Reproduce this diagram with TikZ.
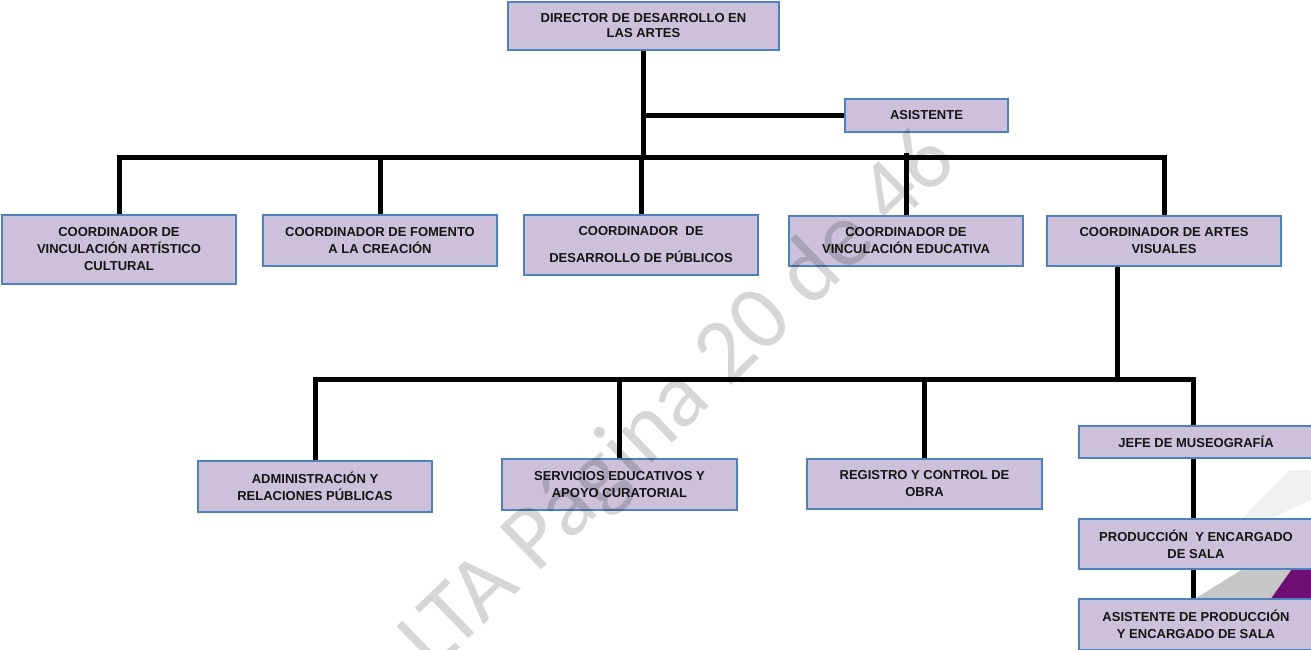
\documentclass[tikz,border=0pt]{standalone}
\usepackage{fontspec}
\setmainfont{Liberation Sans}
\newfontfamily\wmfont{Carlito}
\definecolor{boxfill}{HTML}{CCC0DA}
\definecolor{boxline}{HTML}{4F81BD}
\definecolor{logopurple}{HTML}{6E0E72}
\begin{document}
\begin{tikzpicture}[x=1pt,y=-1pt,
  orgbox/.style={draw=boxline,fill=boxfill,line width=1.4pt,inner sep=0pt,align=center,
    text=black!92,font=\bfseries\fontsize{13}{17}\selectfont},
  conn/.style={line width=5pt,draw=black}]
\useasboundingbox (0,0) rectangle (1311,649);
\fill[white] (0,0) rectangle (1311,649);
% partially hidden logo (bottom right)
\fill[gray!12] (1238,522) -- (1290,470) -- (1311,470) -- (1311,500) -- (1262,522) -- cycle;
\fill[gray!45] (1193,600) -- (1243,569) -- (1292,569) -- (1270,600) -- cycle;
\fill[logopurple] (1270,600) -- (1292,569) -- (1311,569) -- (1311,600) -- cycle;
% coordinates of the bars
\coordinate (b1) at (0,157);
\coordinate (b2) at (0,379);
% nodes
\node[orgbox,minimum width=271pt,minimum height=48pt,font=\bfseries\fontsize{13}{15}\selectfont] (dir) at (643.5,26) {DIRECTOR DE DESARROLLO EN\\LAS ARTES};
\node[orgbox,minimum width=163pt,minimum height=33pt] (asis) at (926.5,115.5) {ASISTENTE};
\node[orgbox,minimum width=234pt,minimum height=69pt] (c1) at (119,249.5) {COORDINADOR DE\\VINCULACIÓN ARTÍSTICO\\CULTURAL};
\node[orgbox,minimum width=234pt,minimum height=51pt] (c2) at (380,240.5) {COORDINADOR DE FOMENTO\\A LA CREACIÓN};
\node[orgbox,minimum width=234pt,minimum height=60pt,font=\bfseries\fontsize{13}{27}\selectfont] (c3) at (641,245) {COORDINADOR\ \ DE\\DESARROLLO DE PÚBLICOS};
\node[orgbox,minimum width=234pt,minimum height=50pt] (c4) at (906,241) {COORDINADOR DE\\VINCULACIÓN EDUCATIVA};
\node[orgbox,minimum width=234pt,minimum height=50pt] (c5) at (1164,241) {COORDINADOR DE ARTES\\VISUALES};
\node[orgbox,minimum width=234pt,minimum height=51pt] (adm) at (315,486.5) {ADMINISTRACIÓN Y\\RELACIONES PÚBLICAS};
\node[orgbox,minimum width=235pt,minimum height=51pt] (ser) at (619.5,484.5) {SERVICIOS EDUCATIVOS Y\\APOYO CURATORIAL};
\node[orgbox,minimum width=235pt,minimum height=50pt] (reg) at (924.5,484) {REGISTRO Y CONTROL DE\\OBRA};
\node[orgbox,minimum width=234pt,minimum height=32pt] (jefe) at (1196,442) {JEFE DE MUSEOGRAFÍA};
\node[orgbox,minimum width=234pt,minimum height=50pt] (prod) at (1196,544) {PRODUCCIÓN\ \ Y ENCARGADO\\DE SALA};
\node[orgbox,minimum width=234pt,minimum height=51pt] (aprod) at (1196,624.5) {ASISTENTE DE PRODUCCIÓN\\Y ENCARGADO DE SALA};
% connectors
\draw[conn] (dir.south) -- (dir.south |- b1);
\draw[conn] (dir.south |- asis.west) -- (asis.west);
\draw[conn] (c1.north) |- (c5.north |- b1) -- (c5.north);
\draw[conn] (c2.north) -- (c2.north |- b1);
\draw[conn] (c3.north) -- (c3.north |- b1);
\draw[conn] (c4.north) -- ([yshift=4pt]c4.north |- b1);
\draw[conn] ([xshift=-47pt]c5.south) -- ([xshift=-47pt]c5.south |- b2);
\draw[conn] (adm.north) |- ([xshift=-3pt]jefe.north |- b2) -- ([xshift=-3pt]jefe.north);
\draw[conn] (ser.north) -- (ser.north |- b2);
\draw[conn] (reg.north) -- (reg.north |- b2);
\draw[conn] ([xshift=-3pt]jefe.south) -- ([xshift=-3pt]prod.north);
\draw[conn] ([xshift=-3pt]prod.south) -- ([xshift=-3pt]aprod.north);
% watermark
\node[rotate=44,text=black,text opacity=0.16,inner sep=0pt,font=\wmfont\fontsize{92}{92}\selectfont] (wm) at (680,402) {LTA Página 20 de 46};
\end{tikzpicture}
\end{document}
